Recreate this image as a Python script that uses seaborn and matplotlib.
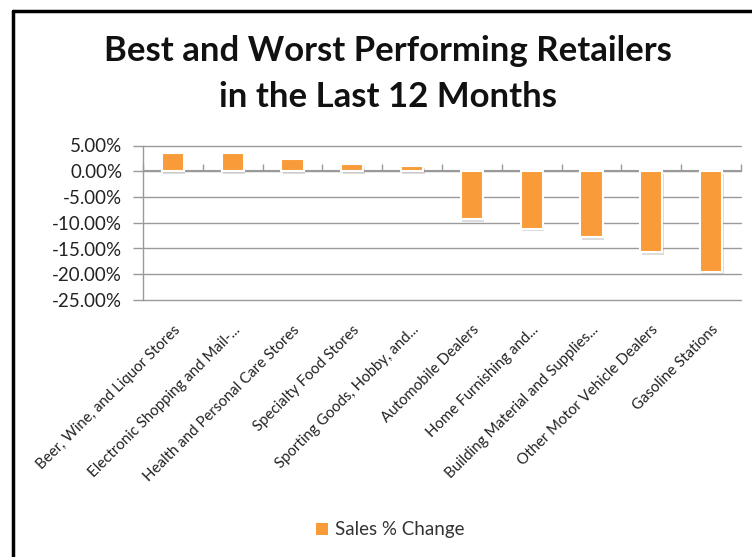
import matplotlib
matplotlib.use("Agg")
import matplotlib.pyplot as plt
import matplotlib.patheffects as pe
import matplotlib.transforms as mtransforms
from matplotlib.lines import Line2D
from matplotlib.patches import Patch
from matplotlib.ticker import PercentFormatter, FixedLocator
import seaborn as sns
import pandas as pd

categories = [
    "Beer, Wine, and Liquor Stores",
    "Electronic Shopping and Mail-...",
    "Health and Personal Care Stores",
    "Specialty Food Stores",
    "Sporting Goods, Hobby, and...",
    "Automobile Dealers",
    "Home Furnishing and...",
    "Building Material and Supplies...",
    "Other Motor Vehicle Dealers",
    "Gasoline Stations",
]
sales_change = [3.6, 3.6, 2.4, 1.4, 1.05, -9.3, -11.2, -12.8, -15.7, -19.5]
series_name = "Sales % Change"
yticks = [5, 0, -5, -10, -15, -20, -25]

df = pd.DataFrame({"category": categories, "value": sales_change})

sns.set_theme(style="white")
plt.rcParams["font.family"] = ["Lato", "DejaVu Sans"]
plt.rcParams["axes.unicode_minus"] = False

W, H = 752, 557
fig = plt.figure(figsize=(W / 100, H / 100), dpi=100, facecolor="white")
ax = fig.add_axes([143 / W, 1 - 300 / H, (741 - 143) / W, (300 - 145.5) / H])

orange = "#F99B38"
sns.barplot(data=df, x="category", y="value", color=orange, width=0.37,
            edgecolor="white", linewidth=1.5, saturation=1, ax=ax, zorder=3)
for p in ax.patches:
    p.set_path_effects([pe.SimplePatchShadow(offset=(1.0, -1.8), shadow_rgbFace="#777777", alpha=0.25),
                        pe.Normal()])

ax.set_ylim(-25, 5)
ax.set_xlim(-0.5, len(categories) - 0.5)
ax.yaxis.set_major_locator(FixedLocator(yticks))
ax.yaxis.set_major_formatter(PercentFormatter(xmax=100, decimals=2))
ax.grid(axis="y", color="#9a9a9a", linewidth=1.0, zorder=0)
for gl in ax.yaxis.get_gridlines():
    gl.set_clip_on(False)
ax.set_axisbelow(True)
ax.set_xlabel("")
ax.set_ylabel("")
for s in ["top", "right", "bottom"]:
    ax.spines[s].set_visible(False)
ax.spines["left"].set_color("#9a9a9a")
ax.spines["left"].set_linewidth(1.0)
ax.tick_params(axis="y", which="major", left=True, length=7, width=1, color="#9a9a9a",
               labelsize=13.5, labelcolor="#222222", pad=8)

# x labels below the plot
ax.tick_params(axis="x", which="major", bottom=True, length=0, pad=20,
               labelsize=10.8, labelcolor="#222222")
offset = mtransforms.ScaledTranslation(5 / 100, 0, fig.dpi_scale_trans)
for lbl in ax.get_xticklabels():
    lbl.set_rotation(45)
    lbl.set_ha("right")
    lbl.set_va("center")
    lbl.set_rotation_mode("anchor")
    lbl.set_transform(lbl.get_transform() + offset)

# zero axis line with boundary tick marks
ax.axhline(0, color="#9a9a9a", linewidth=1.5, zorder=2)
sec = ax.secondary_xaxis(25 / 30)
sec.set_xticks([i - 0.5 for i in range(len(categories) + 1)])
sec.set_xticklabels([])
sec.tick_params(axis="x", length=5, width=1, color="#9a9a9a", direction="out")
sec.spines["bottom"].set_visible(False)
sec.spines["top"].set_visible(False)

# title
fig.text(388 / W, 1 - 74 / H, "Best and Worst Performing Retailers\nin the Last 12 Months",
         ha="center", va="center", fontsize=25, fontweight="bold", color="#111111",
         linespacing=1.52)

# legend
handle = Patch(facecolor=orange, edgecolor="none")
fig.legend([handle], [series_name], loc="center", bbox_to_anchor=(390 / W, 1 - 530 / H),
           frameon=False, fontsize=13.5, handlelength=0.65, handleheight=0.65, handletextpad=0.35,
           labelcolor="#333333")

# chart frame (left and top black borders)
fig.add_artist(Line2D([13 / W, 13 / W], [0, 1 - 11 / H], color="black", linewidth=2.5,
                      transform=fig.transFigure))
fig.add_artist(Line2D([13 / W, 1], [1 - 11 / H, 1 - 11 / H], color="black", linewidth=2.5,
                      transform=fig.transFigure))

fig.savefig("out.png", dpi=100, facecolor="white")
